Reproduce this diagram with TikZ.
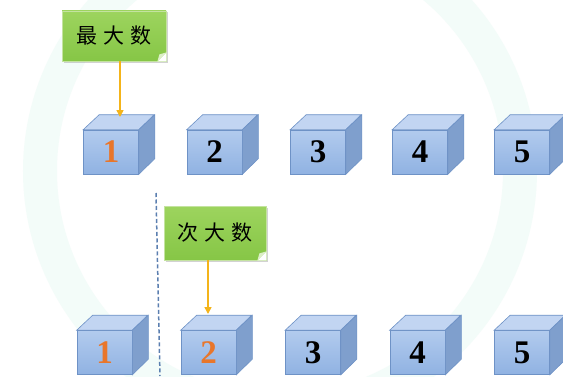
\documentclass[tikz,border=0pt]{standalone}
\usepackage{fontspec}
\setmainfont{Liberation Serif}
\newfontfamily\cjk{Noto Sans CJK SC}
\usetikzlibrary{shadows,arrows.meta}
\definecolor{frontA}{HTML}{B2CBEE}
\definecolor{frontB}{HTML}{90B2E2}
\definecolor{topA}{HTML}{C2D5F2}
\definecolor{sideA}{HTML}{7F9FCD}
\definecolor{cubeedge}{HTML}{6E92C6}
\definecolor{greenA}{HTML}{9DD45E}
\definecolor{greenB}{HTML}{86C646}
\definecolor{greenedge}{HTML}{C4E3A0}
\definecolor{foldc}{HTML}{DCEFC6}
\definecolor{arrowc}{HTML}{F4B41A}
\definecolor{orangec}{HTML}{E8762B}
\definecolor{dashc}{HTML}{5B7FB0}
\definecolor{wm}{HTML}{F3FCF9}
\newcommand\drawcube[5]{%
  \node[front, text=#4] (#1) at (#2,#3) {#5};
  \filldraw[topface] (#1.north west) -- ++(16,15) -- ++(55,0) -- (#1.north east) -- cycle;
  \filldraw[sideface] (#1.north east) -- ++(16,15) -- ++(0,-44) -- (#1.south east) -- cycle;
}
\newcommand\foldcorner[1]{%
  \fill[white] ([xshift=-9pt]#1.south east) -- (#1.south east) -- ([yshift=9pt]#1.south east) -- cycle;
  \fill[foldc] ([xshift=-9pt]#1.south east) -- ([yshift=9pt]#1.south east) -- ([xshift=-7pt,yshift=7pt]#1.south east) -- cycle;
}
\begin{document}
\begin{tikzpicture}[x=1pt,y=1pt,
  front/.style={draw=cubeedge, line width=0.6pt, top color=frontA, bottom color=frontB,
    minimum width=55pt, minimum height=44pt, inner sep=0pt,
    font=\fontsize{33}{34}\selectfont\bfseries},
  topface/.style={draw=cubeedge, line width=0.6pt, fill=topA},
  sideface/.style={draw=cubeedge, line width=0.6pt, fill=sideA},
  note/.style={draw=greenedge, line width=0.8pt, top color=greenA, bottom color=greenB,
    minimum width=104pt, minimum height=50pt, inner sep=0pt,
    drop shadow={shadow xshift=1.5pt, shadow yshift=-1.5pt, opacity=0.35},
    font=\cjk\fontsize{21}{23}\selectfont},
  arr/.style={draw=arrowc, line width=1.6pt, -{Triangle[length=7pt,width=7pt]}},
  divider/.style={draw=dashc, line width=1.5pt, dash pattern=on 4pt off 2.5pt}
]
\useasboundingbox (0,0) rectangle (563,376);
\fill[white] (0,0) rectangle (563,376);
% faint watermark
\draw[wm, line width=34pt] (280,205) circle (240);
% top row
\drawcube{a1}{111}{224}{orangec}{1}
\drawcube{a2}{214.5}{224}{black}{2}
\drawcube{a3}{318}{224}{black}{3}
\drawcube{a4}{420}{224}{black}{4}
\drawcube{a5}{522}{224}{black}{5}
% bottom row
\drawcube{b1}{104.5}{23.5}{orangec}{1}
\drawcube{b2}{208.5}{23.5}{orangec}{2}
\drawcube{b3}{313}{23.5}{black}{3}
\drawcube{b4}{417.5}{23.5}{black}{4}
\drawcube{b5}{522}{23.5}{black}{5}
% divider
\coordinate (d1) at (156,183);
\coordinate (d2) at (160,0);
\draw[divider] (d1) -- (d2);
% notes
\node[note] (mx) at (114,340) {最\hspace{6pt}大\hspace{6pt}数};
\foldcorner{mx}
\node[note, minimum width=102pt, minimum height=54pt] (sx) at (215,143) {次\hspace{6pt}大\hspace{6pt}数};
\foldcorner{sx}
% arrows
\coordinate (t1) at (120,259);
\coordinate (t2) at (208,62);
\draw[arr] (mx.south -| t1) -- (t1);
\draw[arr] (sx.south -| t2) -- (t2);
\end{tikzpicture}
\end{document}
